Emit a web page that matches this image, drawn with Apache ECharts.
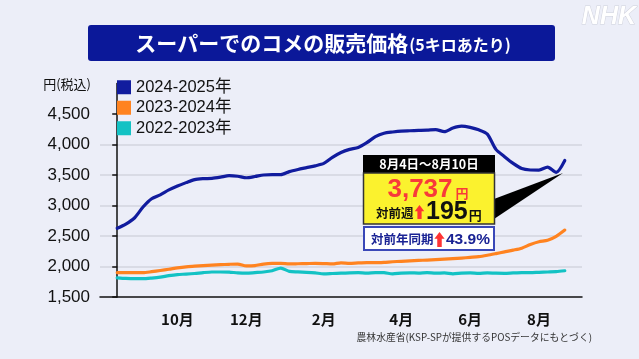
<!DOCTYPE html>
<html>
<head>
<meta charset="utf-8">
<script src="https://cdn.jsdelivr.net/npm/echarts@6/dist/echarts.min.js"></script>
<style>
html,body{margin:0;padding:0;background:#eceef8;}
#c{width:639px;height:359px;}
</style>
</head>
<body>
<div id="c"></div>
<script>
// ---- data (weekly, Aug 2024 week 1 .. Aug 4-10 2025) ----
const seriesNames = ['2024-2025年', '2023-2024年', '2022-2023年'];
const seriesColors = ['#111c9e', '#ff8320', '#13c2c4'];
const price2425 = [2626,2695,2795,2975,3110,3175,3255,3320,3375,3425,3440,3445,3465,3490,3480,3455,3475,3500,3505,3505,
  3555,3590,3620,3650,3690,3790,3870,3920,3950,4030,4130,4185,4205,4220,4225,4230,4235,4245,4210,4270,
  4300,4280,4240,4170,3920,3800,3690,3605,3582,3580,3630,3542,3737];
const price2324 = [1900,1898,1898,1898,1915,1935,1955,1978,1995,2005,2015,2022,2030,2036,2040,2010,2015,2040,2050,2050,
  2042,2045,2048,2052,2048,2042,2060,2050,2058,2063,2062,2068,2078,2085,2092,2100,2105,2112,2120,2128,
  2138,2150,2162,2185,2212,2240,2268,2300,2360,2405,2430,2495,2597];
const price2223 = [1815,1805,1800,1800,1810,1825,1850,1868,1875,1885,1900,1910,1910,1908,1895,1890,1900,1910,1930,1975,
  1920,1912,1905,1895,1880,1885,1890,1895,1898,1890,1900,1898,1880,1890,1895,1893,1900,1890,1895,1880,
  1890,1895,1888,1895,1890,1888,1895,1900,1898,1905,1910,1915,1930];
const xTickIndex = [7, 15, 24, 33, 41, 49];
const xTickLabels = ['10月', '12月', '2月', '4月', '6月', '8月'];
const yTicks = [1500, 2000, 2500, 3000, 3500, 4000, 4500];

const JP = "'Noto Sans CJK JP', sans-serif";
const NUM = "'Liberation Sans', 'Noto Sans CJK JP', sans-serif";

const chart = echarts.init(document.getElementById('c'), null, {renderer: 'canvas'});
const allSeries = [price2425, price2324, price2223];

function upArrow(cx, top, h) {
  const w = h * 0.68, hh = h * 0.45, sw = h * 0.3;
  return [[cx, top], [cx + w / 2, top + hh], [cx + sw / 2, top + hh], [cx + sw / 2, top + h],
          [cx - sw / 2, top + h], [cx - sw / 2, top + hh], [cx - w / 2, top + hh]];
}

const option = {
  backgroundColor: '#eceef8',
  animation: false,
  grid: {left: 100, right: 57, top: 83.5, bottom: 62},
  legend: {
    orient: 'vertical', left: 112, top: 74, itemWidth: 14, itemHeight: 14, itemGap: 4,
    icon: 'rect',
    textStyle: {fontSize: 16.5, color: '#111', fontFamily: NUM},
    data: seriesNames
  },
  xAxis: {
    type: 'value', min: -2, max: 54, interval: 1,
    axisLine: {show: true, lineStyle: {color: '#111', width: 1.5}},
    axisTick: {show: false},
    splitLine: {show: false},
    axisLabel: {
      margin: 15, fontSize: 15, fontWeight: 'bold', color: '#111', fontFamily: JP,
      formatter: v => { const k = xTickIndex.indexOf(v); return k >= 0 ? xTickLabels[k] : ''; }
    }
  },
  yAxis: {
    type: 'value', min: 1500, max: 5000, interval: 500,
    axisLine: {show: true, lineStyle: {color: '#111', width: 1.5}},
    axisTick: {show: true, length: 5, lineStyle: {color: '#111', width: 1.5}, customValues: yTicks},
    axisLabel: {
      customValues: yTicks, margin: 10, fontSize: 17, color: '#111', fontFamily: NUM,
      formatter: v => v.toLocaleString('en-US')
    },
    splitLine: {show: true, showMaxLine: false, showMinLine: false, lineStyle: {color: '#d3d5df', width: 1.5}}
  },
  series: allSeries.map((arr, s) => ({
    name: seriesNames[s], type: 'line', showSymbol: false, smooth: 0.25,
    z: 10 - s,
    itemStyle: {color: seriesColors[s]},
    lineStyle: {color: seriesColors[s], width: 3.2, cap: 'round', join: 'round'},
    data: arr.map((v, i) => [i, v])
  })),
  graphic: [
    // title
    {type: 'rect', shape: {x: 88, y: 25, width: 467, height: 36, r: 3}, style: {fill: '#0b1899'}, z: 1},
    {type: 'text', x: 323, y: 43, z: 2, style: {
      text: '{a|スーパーでのコメの販売価格}{b|(5キロあたり)}', align: 'center', verticalAlign: 'middle',
      rich: {
        a: {fontSize: 21, fontWeight: 'bold', fill: '#fff', fontFamily: JP},
        b: {fontSize: 16, fontWeight: 'bold', fill: '#fff', fontFamily: JP, padding: [3, 0, 0, 1]}
      }}},
    // NHK mark
    {type: 'text', x: 636, y: 17, z: 2, style: {
      text: 'NHK', align: 'right', verticalAlign: 'middle', fontSize: 25, fontWeight: 900, fontStyle: 'italic',
      fontFamily: NUM, fill: '#ffffff', stroke: '#d0d2dc', lineWidth: 1}},
    // y axis unit
    {type: 'text', x: 91, y: 84, z: 2, style: {
      text: '円(税込)', align: 'right', verticalAlign: 'middle', fontSize: 13, fill: '#111', fontFamily: JP}},
    // source
    {type: 'text', x: 592, y: 337, z: 2, style: {
      text: '農林水産省(KSP-SPが提供するPOSデータにもとづく)', align: 'right', verticalAlign: 'middle',
      fontSize: 9.8, fill: '#333', fontFamily: JP}},
    // callout pointer
    {type: 'polygon', z: 20, shape: {points: [[494, 199], [494, 219], [563, 173]]}, style: {fill: '#000'}},
    // header
    {type: 'rect', z: 21, shape: {x: 363, y: 155, width: 132, height: 18}, style: {fill: '#000'}},
    {type: 'text', z: 22, x: 429, y: 164.5, style: {
      text: '8月4日～8月10日', align: 'center', verticalAlign: 'middle', fontSize: 12.5, fontWeight: 'bold',
      fill: '#fff', fontFamily: JP}},
    // yellow body
    {type: 'rect', z: 21, shape: {x: 363.5, y: 173, width: 131, height: 51}, style: {fill: '#fbf22e', stroke: '#333', lineWidth: 1.5}},
    {type: 'text', z: 22, x: 428, y: 190, style: {
      text: '{n|3,737}{u|円}', align: 'center', verticalAlign: 'middle',
      rich: {
        n: {fontSize: 26, fontWeight: 'bold', fill: '#f83a3a', fontFamily: NUM},
        u: {fontSize: 13, fontWeight: 'bold', fill: '#f83a3a', fontFamily: JP, padding: [6, 0, 0, 3]}
      }}},
    {type: 'text', z: 22, x: 376, y: 213, style: {
      text: '対前週', align: 'left', verticalAlign: 'middle', fontSize: 12.5, fontWeight: 'bold', fill: '#111', fontFamily: JP}},
    {type: 'polygon', z: 22, shape: {points: upArrow(419.5, 205, 14)}, style: {fill: '#ff3333'}},
    {type: 'text', z: 22, x: 426, y: 212, style: {
      text: '{n|195}{u|円}', align: 'left', verticalAlign: 'middle',
      rich: {
        n: {fontSize: 25, fontWeight: 'bold', fill: '#111', fontFamily: NUM},
        u: {fontSize: 13, fontWeight: 'bold', fill: '#111', fontFamily: JP, padding: [6, 0, 0, 1]}
      }}},
    // year-over-year box
    {type: 'rect', z: 21, shape: {x: 364, y: 227, width: 130, height: 23}, style: {fill: '#fff', stroke: '#3a48b8', lineWidth: 2}},
    {type: 'text', z: 22, x: 371, y: 239, style: {
      text: '対前年同期', align: 'left', verticalAlign: 'middle', fontSize: 12.5, fontWeight: 'bold', fill: '#1a2394', fontFamily: JP}},
    {type: 'polygon', z: 22, shape: {points: upArrow(439.5, 232, 15)}, style: {fill: '#ff3333'}},
    {type: 'text', z: 22, x: 446, y: 239.5, style: {
      text: '43.9%', align: 'left', verticalAlign: 'middle', fontSize: 15.5, fontWeight: 'bold', fill: '#1a2394', fontFamily: NUM}}
  ]
};
chart.setOption(option);
</script>
</body>
</html>
